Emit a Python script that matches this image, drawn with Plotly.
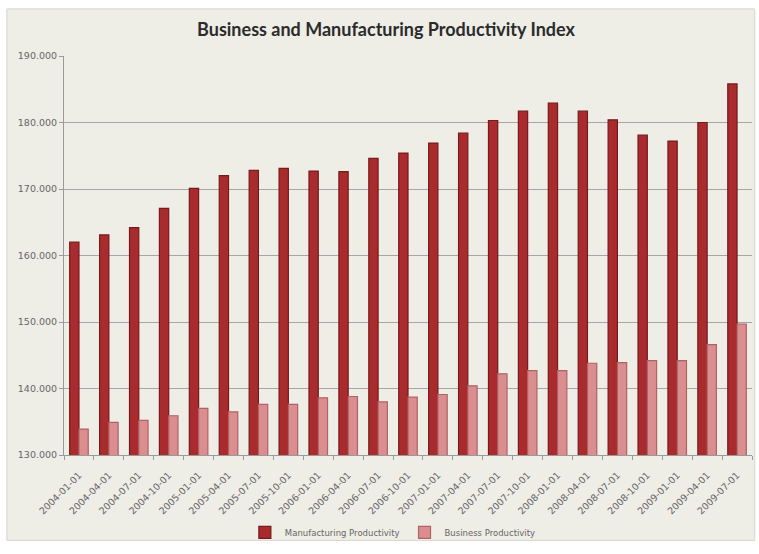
import plotly.graph_objects as go

# Quarterly productivity index values
quarters = [
    "2004-01-01", "2004-04-01", "2004-07-01", "2004-10-01",
    "2005-01-01", "2005-04-01", "2005-07-01", "2005-10-01",
    "2006-01-01", "2006-04-01", "2006-07-01", "2006-10-01",
    "2007-01-01", "2007-04-01", "2007-07-01", "2007-10-01",
    "2008-01-01", "2008-04-01", "2008-07-01", "2008-10-01",
    "2009-01-01", "2009-04-01", "2009-07-01",
]
manufacturing = [
    162.0, 163.1, 164.2, 167.1,
    170.1, 172.0, 172.8, 173.1,
    172.7, 172.6, 174.6, 175.4,
    176.9, 178.4, 180.3, 181.7,
    182.9, 181.7, 180.4, 178.1,
    177.2, 180.0, 185.8,
]
business = [
    133.9, 134.9, 135.2, 135.9,
    137.0, 136.5, 137.6, 137.6,
    138.6, 138.8, 138.0, 138.7,
    139.1, 140.4, 142.2, 142.7,
    142.7, 143.8, 143.9, 144.2,
    144.2, 146.6, 149.7,
]
y_ticks = [130, 140, 150, 160, 170, 180, 190]

fig = go.Figure()
fig.add_trace(go.Bar(
    x=quarters, y=manufacturing, name="Manufacturing Productivity",
    marker=dict(color="#A92B2E", line=dict(color="#761A1C", width=1.2)),
))
fig.add_trace(go.Bar(
    x=quarters, y=business, name="Business Productivity",
    marker=dict(color="#DA8E8F", line=dict(color="#B06264", width=1.2)),
))

# beige chart frame behind the white plot area
fig.add_shape(
    type="rect", xref="paper", yref="paper", layer="below",
    x0=-0.083, x1=1.004, y0=-0.214, y1=1.118,
    fillcolor="#EEEDE6", line=dict(color="#D6D4CC", width=1),
)

tick_font = dict(family="DejaVu Sans", size=9.5, color="#666666")

fig.update_layout(
    width=759, height=554,
    margin=dict(l=64, r=7, t=56, b=91),
    paper_bgcolor="#FFFFFF",
    plot_bgcolor="#FFFFFF",
    barmode="group",
    bargap=0.38,
    bargroupgap=0.0,
    title=dict(
        text="<b>Business and Manufacturing Productivity Index</b>",
        x=0.468, xref="paper", xanchor="center",
        y=0.946, yanchor="middle",
        font=dict(family="Lato, Open Sans, sans-serif", size=18, color="#2B2B2B"),
    ),
    legend=dict(
        orientation="h", x=0.478, xanchor="center", y=-0.194, yanchor="middle",
        font=dict(family="DejaVu Sans", size=8.5, color="#666666"),
        bgcolor="rgba(0,0,0,0)", itemwidth=30,
    ),
    xaxis=dict(
        type="category",
        tickangle=-45,
        tickson="boundaries",
        ticks="outside", ticklen=4, tickcolor="#9A9A9A",
        showline=True, linecolor="#9A9A9A", linewidth=1,
        showgrid=False,
        tickfont=tick_font,
        ticklabelstandoff=10,
    ),
    yaxis=dict(
        range=[130, 190],
        tickvals=y_ticks,
        tickformat=".3f",
        ticks="outside", ticklen=4, tickcolor="#9A9A9A",
        showline=True, linecolor="#9A9A9A", linewidth=1,
        showgrid=True, gridcolor="#A6A6A6", gridwidth=1,
        zeroline=False,
        tickfont=tick_font,
    ),
)

fig.write_html("out.html")
